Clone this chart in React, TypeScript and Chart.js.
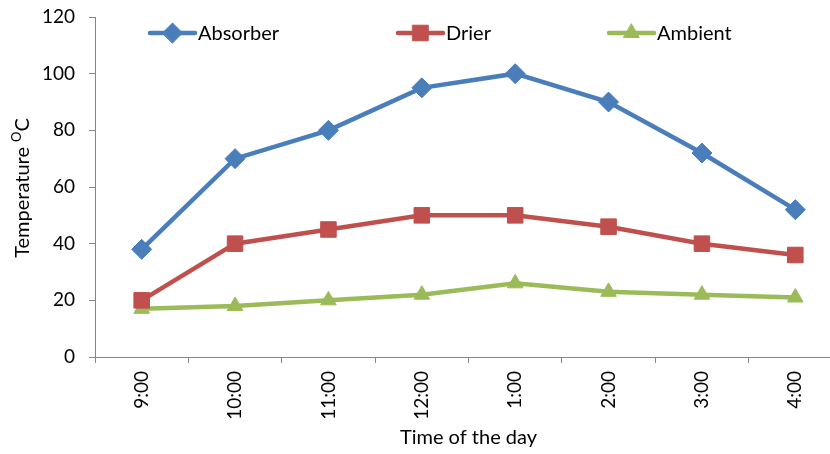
import React, { useEffect, useRef } from 'react';
import { Chart, registerables } from 'chart.js';
import { drawPoint } from 'chart.js/helpers';

Chart.register(...registerables);

const categories = ['9:00', '10:00', '11:00', '12:00', '1:00', '2:00', '3:00', '4:00'];
const absorber = [38, 70, 80, 95, 100, 90, 72, 52];
const drier = [20, 40, 45, 50, 50, 46, 40, 36];
const ambient = [17, 18, 20, 22, 26, 23, 22, 21];
const seriesNames = ['Absorber', 'Drier', 'Ambient'];
const yMin = 0;
const yMax = 120;
const yStep = 20;
const xTitle = 'Time of the day';
const yTitleMain = 'Temperature ';
const yTitleSup = 'O';
const yTitleUnit = 'C';

const FONT = 'Lato, "Open Sans", sans-serif';
const AXIS = '#868686';
const legendX = [150, 398, 609];

const legendPlugin = {
  id: 'insideLegend',
  afterDraw(chart: any) {
    const ctx = chart.ctx;
    const y = chart.chartArea.top + 16;
    ctx.save();
    chart.data.datasets.forEach((ds: any, i: number) => {
      const x0 = legendX[i];
      ctx.strokeStyle = ds.borderColor;
      ctx.lineWidth = 4.5;
      ctx.lineCap = 'round';
      ctx.beginPath();
      ctx.moveTo(x0, y);
      ctx.lineTo(x0 + 45, y);
      ctx.stroke();
      ctx.fillStyle = ds.backgroundColor;
      ctx.strokeStyle = ds.borderColor;
      ctx.lineWidth = 1;
      drawPoint(ctx, { pointStyle: ds.pointStyle, radius: ds.pointRadius, borderWidth: 1, rotation: 0 } as any, x0 + 22.5, y);
      ctx.fillStyle = '#000';
      ctx.font = `20px ${FONT}`;
      ctx.textBaseline = 'middle';
      ctx.textAlign = 'left';
      ctx.fillText(ds.label, x0 + 48, y + 1);
    });
    // y-axis title with superscript
    ctx.translate(29, 188);
    ctx.rotate(-Math.PI / 2);
    ctx.textBaseline = 'alphabetic';
    ctx.fillStyle = '#000';
    ctx.font = `20px ${FONT}`;
    const w1 = ctx.measureText(yTitleMain).width;
    ctx.font = `13px ${FONT}`;
    const w2 = ctx.measureText(yTitleSup).width;
    ctx.font = `20px ${FONT}`;
    const w3 = ctx.measureText(yTitleUnit).width;
    let x = -(w1 + w2 + w3) / 2;
    ctx.textAlign = 'left';
    ctx.fillText(yTitleMain, x, 0);
    x += w1;
    ctx.font = `13px ${FONT}`;
    ctx.fillText(yTitleSup, x, -8);
    x += w2;
    ctx.font = `20px ${FONT}`;
    ctx.fillText(yTitleUnit, x, 0);
    ctx.restore();
  },
};

export default function App() {
  const ref = useRef<HTMLCanvasElement>(null);
  useEffect(() => {
    if (!ref.current) return;
    const mk = (label: string, data: number[], color: string, style: string, r: number) => ({
      label,
      data,
      borderColor: color,
      backgroundColor: color,
      borderWidth: 4.5,
      pointStyle: style,
      pointRadius: r,
      pointHoverRadius: r,
      pointBorderWidth: 1,
      tension: 0,
    });
    const chart = new Chart(ref.current, {
      type: 'line',
      data: {
        labels: categories,
        datasets: [
          mk(seriesNames[0], absorber, '#4A7EBB', 'rectRot', 10),
          mk(seriesNames[1], drier, '#C0504D', 'rect', 11),
          mk(seriesNames[2], ambient, '#9BBB59', 'triangle', 9),
        ],
      },
      options: {
        responsive: false,
        animation: false,
        layout: { padding: { top: 17, left: 0, right: 4, bottom: 0 } },
        plugins: { legend: { display: false }, tooltip: { enabled: false } },
        scales: {
          x: {
            type: 'category',
            offset: true,
            grid: { display: true, offset: true, drawOnChartArea: false, drawTicks: true, tickLength: 6, color: AXIS },
            border: { color: AXIS, width: 1 },
            ticks: { color: '#000', font: { family: FONT, size: 19 }, minRotation: 90, maxRotation: 90, padding: 8, autoSkip: false },
            title: { display: true, text: xTitle, color: '#000', font: { family: FONT, size: 20 }, padding: { top: 4, bottom: 4 } },
            afterFit: (s: any) => { s.height = 97; },
          },
          y: {
            min: yMin,
            max: yMax,
            grid: { display: true, drawOnChartArea: false, drawTicks: true, tickLength: 6, color: AXIS },
            border: { color: AXIS, width: 1 },
            ticks: { stepSize: yStep, color: '#000', font: { family: FONT, size: 19 }, padding: 14 },
            title: { display: false },
            afterFit: (s: any) => { s.width = 95; s.paddingTop = 0; s.paddingBottom = 0; },
          },
        },
      },
      plugins: [legendPlugin],
    } as any);
    return () => chart.destroy();
  }, []);
  return (
    <div style={{ position: 'absolute', left: 0, top: 0, width: 830, height: 454, overflow: 'hidden', background: '#fff' }}>
      <canvas ref={ref} width={854} height={454} style={{ display: 'block' }} />
    </div>
  );
}
